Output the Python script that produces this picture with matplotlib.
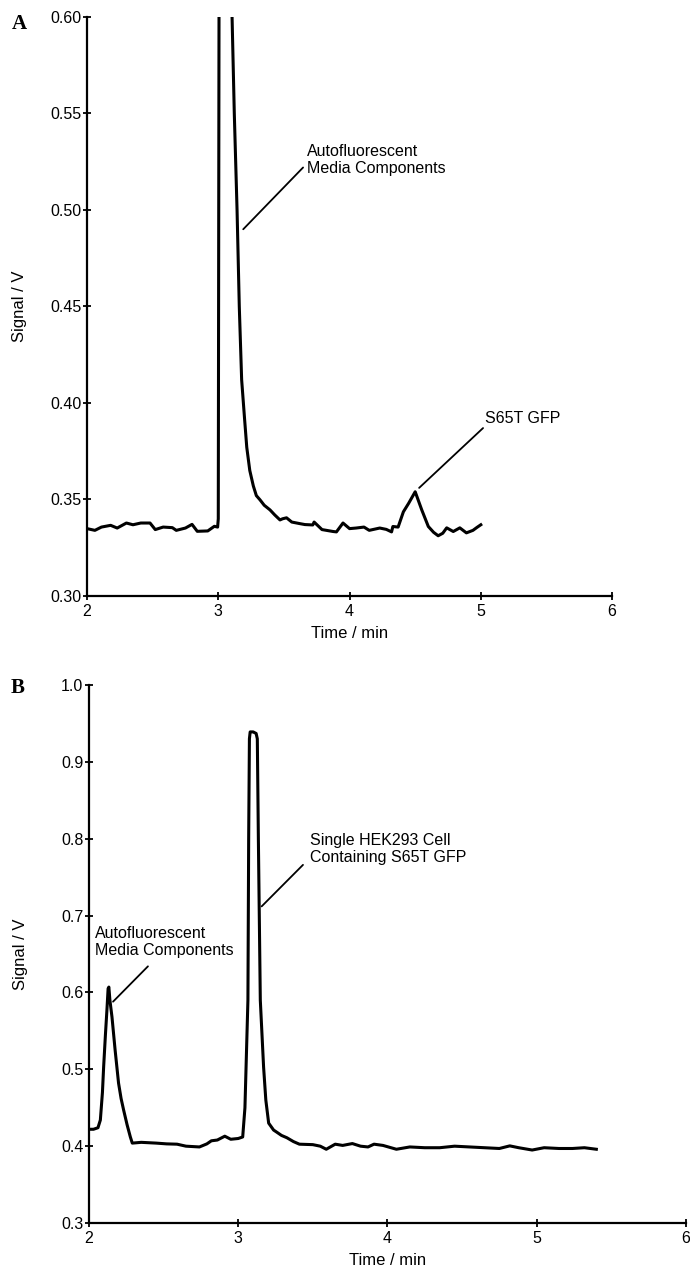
import matplotlib
matplotlib.use("Agg")
import matplotlib.pyplot as plt
from matplotlib.ticker import FormatStrFormatter

plt.rcParams["font.family"] = ["Liberation Sans", "DejaVu Sans"]

# panel A: culture medium containing S65T GFP
time_a = [2.00, 2.06, 2.11, 2.18, 2.23, 2.30, 2.35, 2.41, 2.48, 2.52, 2.58, 2.65,
          2.68, 2.75, 2.80, 2.84, 2.92, 2.97, 2.995, 3.000, 3.006, 3.055, 3.09,
          3.105, 3.122, 3.143, 3.16, 3.178, 3.20, 3.217, 3.24, 3.267, 3.29, 3.318,
          3.35, 3.394, 3.43, 3.47, 3.49, 3.52, 3.56, 3.62, 3.66, 3.72, 3.73, 3.79,
          3.875, 3.90, 3.95, 4.00, 4.05, 4.11, 4.15, 4.23, 4.28, 4.32, 4.33, 4.37,
          4.41, 4.45, 4.50, 4.55, 4.60, 4.64, 4.675, 4.71, 4.74, 4.79, 4.84, 4.89,
          4.94, 4.97, 5.00]
signal_a = [0.3349, 0.3340, 0.3357, 0.3366, 0.3352, 0.3378, 0.3369, 0.3378, 0.3378,
            0.3344, 0.3357, 0.3354, 0.3340, 0.3352, 0.3371, 0.3335, 0.3337, 0.3361,
            0.3357, 0.340, 0.620, 0.950, 0.640, 0.600, 0.550, 0.500, 0.450, 0.412,
            0.392, 0.377, 0.365, 0.357, 0.352, 0.3498, 0.347, 0.3446, 0.342, 0.3394,
            0.3400, 0.3405, 0.3383, 0.3375, 0.3370, 0.3368, 0.3383, 0.3344, 0.3334,
            0.3332, 0.3378, 0.3349, 0.3352, 0.3357, 0.3340, 0.3352, 0.3345, 0.3332,
            0.3360, 0.3357, 0.3436, 0.3480, 0.3540, 0.3446, 0.3360, 0.3330, 0.3312,
            0.3325, 0.3353, 0.3334, 0.3353, 0.3327, 0.3340, 0.3355, 0.3369]

# panel B: single HEK293 cell
time_b = [2.00, 2.03, 2.06, 2.076, 2.09, 2.098, 2.11, 2.12, 2.128, 2.133, 2.14,
          2.154, 2.175, 2.198, 2.215, 2.232, 2.255, 2.277, 2.29, 2.35, 2.45, 2.52,
          2.59, 2.65, 2.74, 2.79, 2.82, 2.86, 2.91, 2.95, 3.00, 3.03, 3.045, 3.055,
          3.065, 3.07, 3.075, 3.08, 3.10, 3.12, 3.128, 3.135, 3.148, 3.17, 3.185,
          3.204, 3.237, 3.26, 3.29, 3.326, 3.37, 3.41, 3.50, 3.55, 3.59, 3.65, 3.70,
          3.765, 3.82, 3.87, 3.91, 3.97, 4.06, 4.15, 4.25, 4.35, 4.45, 4.55, 4.65,
          4.75, 4.82, 4.88, 4.97, 5.05, 5.15, 5.24, 5.32, 5.40]
signal_b = [0.422, 0.422, 0.424, 0.434, 0.470, 0.503, 0.545, 0.577, 0.605, 0.607,
            0.590, 0.568, 0.525, 0.482, 0.462, 0.447, 0.428, 0.412, 0.404, 0.405,
            0.404, 0.403, 0.4026, 0.400, 0.399, 0.403, 0.407, 0.408, 0.413, 0.409,
            0.410, 0.412, 0.450, 0.520, 0.590, 0.800, 0.930, 0.939, 0.939, 0.937,
            0.930, 0.800, 0.590, 0.503, 0.460, 0.430, 0.421, 0.418, 0.414, 0.411,
            0.406, 0.4026, 0.402, 0.400, 0.396, 0.4026, 0.401, 0.4034, 0.400, 0.399,
            0.4026, 0.401, 0.396, 0.399, 0.398, 0.398, 0.400, 0.399, 0.398, 0.397,
            0.4004, 0.398, 0.395, 0.398, 0.397, 0.397, 0.398, 0.396]

yticks_a = [0.30, 0.35, 0.40, 0.45, 0.50, 0.55, 0.60]
yticks_b = [0.3, 0.4, 0.5, 0.6, 0.7, 0.8, 0.9, 1.0]
xticks = [2, 3, 4, 5, 6]

# annotations: (label, text position, leader tip, leader tail)
notes_a = [
    ("Autofluorescent\nMedia Components", (3.676, 0.526), (3.19, 0.490), (3.646, 0.522)),
    ("S65T GFP", (5.03, 0.392), (4.53, 0.356), (5.017, 0.387)),
]
notes_b = [
    ("Single HEK293 Cell\nContaining S65T GFP", (3.48, 0.787), (3.157, 0.712), (3.434, 0.766)),
    ("Autofluorescent\nMedia Components", (2.04, 0.666), (2.161, 0.588), (2.395, 0.634)),
]


def style_axis(ax, ylim, yticks, yfmt, ylab_x):
    ax.set_xlim(2, 6)
    ax.set_ylim(*ylim)
    ax.set_xticks(xticks)
    ax.set_yticks(yticks)
    ax.yaxis.set_major_formatter(FormatStrFormatter(yfmt))
    for s in ["top", "right"]:
        ax.spines[s].set_visible(False)
    for s in ["left", "bottom"]:
        ax.spines[s].set_linewidth(1.6)
    ax.tick_params(direction="inout", length=6, width=1.3, labelsize=11.5, pad=1)
    ax.tick_params(axis="x", pad=3)
    ax.set_xlabel("Time / min", fontsize=12, labelpad=5)
    ax.set_ylabel("Signal / V", fontsize=12)
    ax.yaxis.set_label_coords(ylab_x, 0.5)


def add_notes(ax, notes):
    for label, pos, tip, tail in notes:
        ax.text(pos[0], pos[1], label, fontsize=11.5, ha="left", va="center",
                linespacing=1.15)
        ax.annotate("", xy=tip, xytext=tail,
                    arrowprops=dict(arrowstyle="-", lw=1.3, color="black",
                                    shrinkA=0, shrinkB=0))


fig = plt.figure(figsize=(6.9, 12.74), dpi=100)
ax_a = fig.add_axes([0.1261, 0.5322, 0.761, 0.4545])
ax_b = fig.add_axes([0.129, 0.040, 0.865, 0.4223])

ax_a.plot(time_a, signal_a, color="black", lw=2.2)
style_axis(ax_a, (0.30, 0.60), yticks_a, "%.2f", -0.115)
add_notes(ax_a, notes_a)

ax_b.plot(time_b, signal_b, color="black", lw=2.2)
style_axis(ax_b, (0.3, 1.0), yticks_b, "%.1f", -0.102)
add_notes(ax_b, notes_b)

fig.text(0.028, 0.981, "A", fontsize=15, fontweight="bold",
         family="Liberation Serif", ha="center", va="center")
fig.text(0.026, 0.460, "B", fontsize=15, fontweight="bold",
         family="Liberation Serif", ha="center", va="center")

fig.savefig("out.png", dpi=100)
